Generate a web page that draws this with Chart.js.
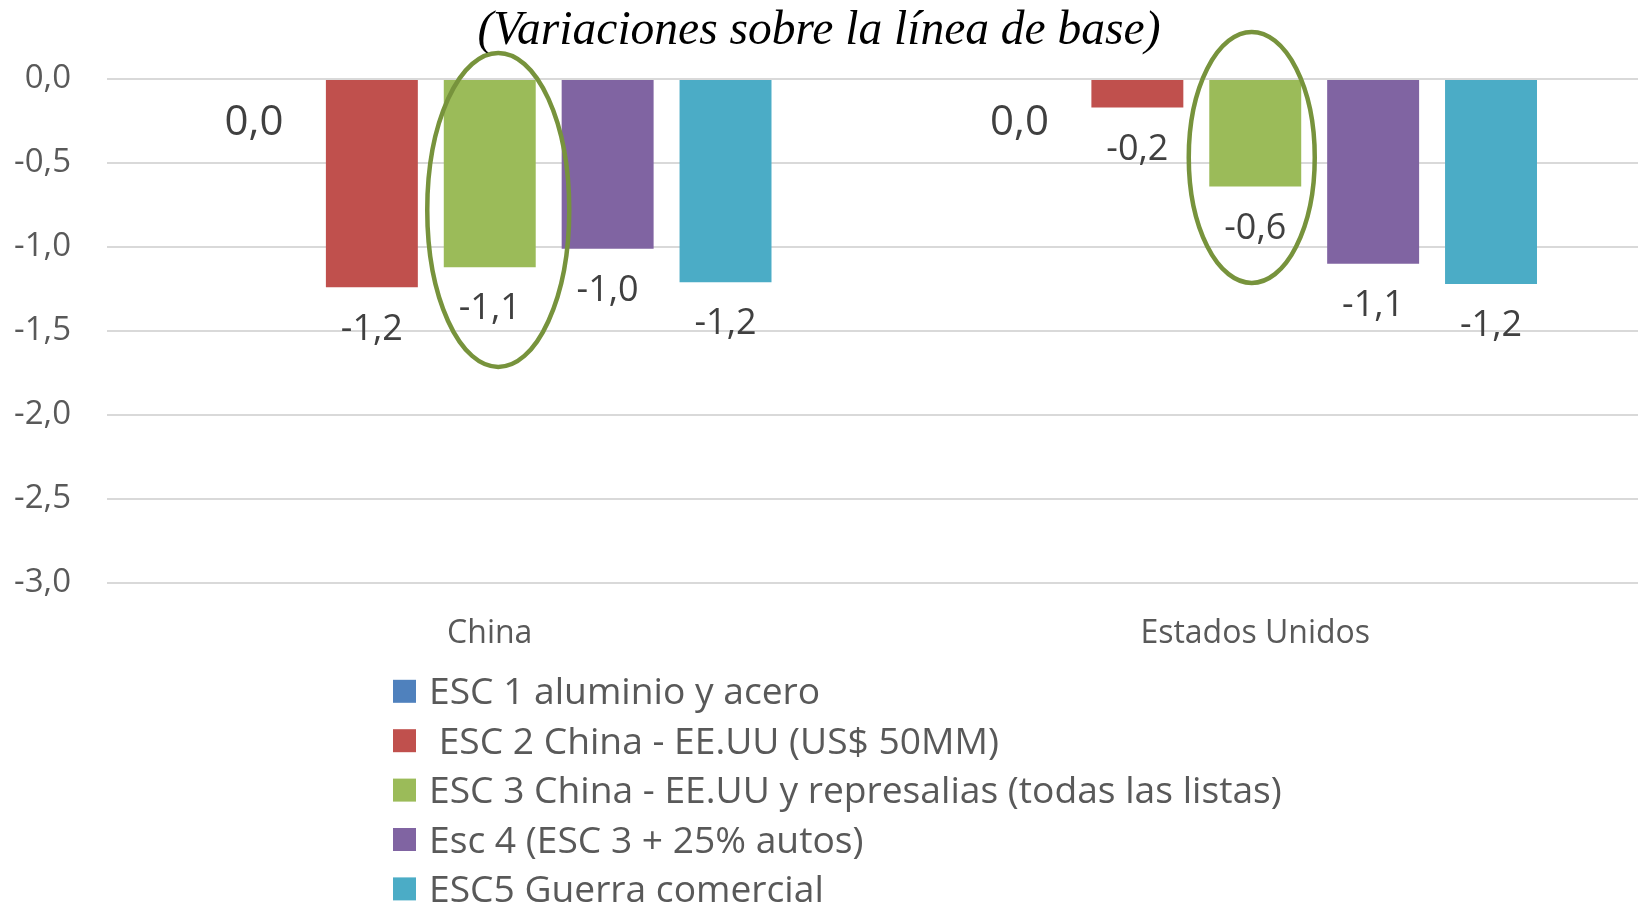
<!DOCTYPE html>
<html>
<head>
<meta charset="utf-8">
<script src="https://cdn.jsdelivr.net/npm/chart.js@4.4.1/dist/chart.umd.min.js"></script>
<style>
  html, body { margin: 0; padding: 0; background: #ffffff; }
  #wrap { width: 1638px; height: 906px; position: relative; overflow: hidden; }
  canvas { display: block; }
</style>
</head>
<body>
<div id="wrap"><canvas id="c" width="1638" height="906"></canvas></div>
<script>
// ---- Data ----
const categories = ['China', 'Estados Unidos'];
const seriesLabels = [
  'ESC 1 aluminio y acero',
  ' ESC 2 China - EE.UU (US$ 50MM)',
  'ESC 3 China - EE.UU y represalias (todas las listas)',
  'Esc 4 (ESC 3 + 25% autos)',
  'ESC5 Guerra comercial'
];
const esc1 = [0.0, 0.0];
const esc2 = [-1.24, -0.17];
const esc3 = [-1.12, -0.64];
const esc4 = [-1.01, -1.10];
const esc5 = [-1.21, -1.22];
const yMin = -3.0;
const yMax = 0.0;
const yStep = 0.5;
const titleText = '(Variaciones sobre la línea de base)';

// Highlight ellipses around scenario 3 (value range covered, per category)
const highlightTop = [0.155, 0.28];
const highlightBottom = [-1.714, -1.214];

const seriesValues = [esc1, esc2, esc3, esc4, esc5];
const seriesColors = ['#4F81BD', '#C0504D', '#9BBB59', '#8064A2', '#4BACC6'];

const fmt = v => v.toFixed(1).replace('.', ',');
const SANS = "'Open Sans', 'Noto Sans', sans-serif";

const valueLabels = {
  id: 'valueLabels',
  afterDatasetsDraw(chart) {
    const ctx = chart.ctx;
    ctx.save();
    ctx.fillStyle = '#404040';
    ctx.textAlign = 'center';
    ctx.textBaseline = 'alphabetic';
    chart.data.datasets.forEach((ds, di) => {
      const meta = chart.getDatasetMeta(di);
      meta.data.forEach((bar, i) => {
        const v = ds.data[i];
        const size = (v === 0) ? 42 : 36;
        ctx.font = size + "px " + SANS;
        const end = Math.max(bar.y, bar.base);
        ctx.fillText(fmt(v), bar.x, end + 26.5 + 0.714 * size);
      });
    });
    ctx.restore();
  }
};

const highlightEllipses = {
  id: 'highlightEllipses',
  afterDatasetsDraw(chart, args, opts) {
    const ctx = chart.ctx;
    const meta = chart.getDatasetMeta(opts.dataset);
    const yScale = chart.scales.y;
    ctx.save();
    ctx.strokeStyle = opts.color;
    ctx.lineWidth = opts.lineWidth;
    meta.data.forEach((bar, i) => {
      const yt = yScale.getPixelForValue(highlightTop[i]);
      const yb = yScale.getPixelForValue(highlightBottom[i]);
      const cx = bar.x + opts.dx[i];
      ctx.beginPath();
      ctx.ellipse(cx, (yt + yb) / 2, opts.rx[i], (yb - yt) / 2, 0, 0, Math.PI * 2);
      ctx.stroke();
    });
    ctx.restore();
  }
};

const stackedLegend = {
  id: 'stackedLegend',
  afterDraw(chart, args, opts) {
    const ctx = chart.ctx;
    ctx.save();
    ctx.font = opts.size + "px " + SANS;
    ctx.textAlign = 'left';
    ctx.textBaseline = 'alphabetic';
    chart.data.datasets.forEach((ds, i) => {
      const base = opts.y0 + i * opts.step;
      ctx.fillStyle = ds.backgroundColor;
      ctx.fillRect(opts.x0, base - 24.5, opts.box, opts.box);
      ctx.fillStyle = '#595959';
      ctx.fillText(ds.label, opts.textX, base);
    });
    ctx.restore();
  }
};

new Chart(document.getElementById('c'), {
  type: 'bar',
  data: {
    labels: categories,
    datasets: seriesLabels.map((lab, i) => ({
      label: lab,
      data: seriesValues[i],
      backgroundColor: seriesColors[i],
      borderWidth: 0,
      categoryPercentage: 0.77,
      barPercentage: 0.78
    }))
  },
  plugins: [valueLabels, highlightEllipses, stackedLegend],
  options: {
    responsive: false,
    animation: false,
    devicePixelRatio: 1,
    layout: { padding: { left: 0, right: 0, top: 0, bottom: 0 } },
    plugins: {
      legend: { display: false },
      tooltip: { enabled: false },
      title: {
        display: true,
        text: titleText,
        color: '#000000',
        font: { family: "'Liberation Serif', 'Times New Roman', serif", size: 47.5, style: 'italic', weight: 'normal', lineHeight: 1.2 },
        padding: { top: 3, bottom: 19 }
      },
      highlightEllipses: { dataset: 2, color: '#77933C', lineWidth: 4.5, dx: [8.5, -3.5], rx: [71, 63] },
      stackedLegend: { x0: 393, box: 23, textX: 429, y0: 704.3, step: 49.4, size: 37.2 }
    },
    scales: {
      y: {
        min: yMin,
        max: yMax,
        ticks: {
          stepSize: yStep,
          padding: 36,
          color: '#595959',
          font: { family: SANS, size: 33 },
          callback: v => fmt(v)
        },
        grid: { color: '#D9D9D9', lineWidth: 2, drawTicks: false },
        border: { display: false },
        afterFit: s => { s.width = 107; }
      },
      x: {
        ticks: { color: '#595959', font: { family: SANS, size: 32 }, padding: 32 },
        grid: { display: false, drawTicks: false },
        border: { display: false },
        afterFit: s => { s.height = 323; }
      }
    }
  }
});
</script>
</body>
</html>
